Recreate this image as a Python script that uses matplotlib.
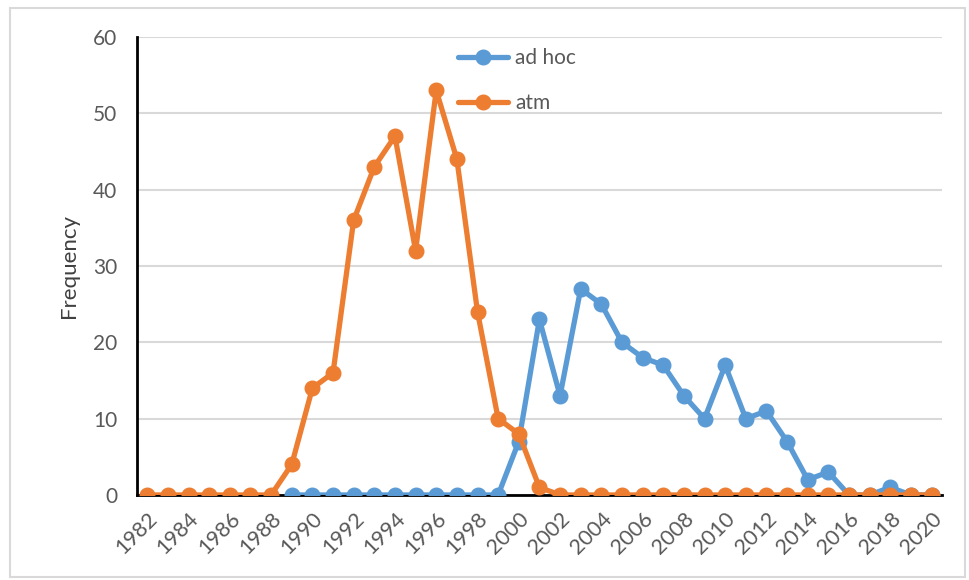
import matplotlib
matplotlib.use("Agg")
import matplotlib.pyplot as plt
from matplotlib.patches import Rectangle

# Yearly counts for each term
years_atm = list(range(1982, 2021))
atm = [0, 0, 0, 0, 0, 0, 0, 4, 14, 16, 36, 43, 47, 32, 53, 44, 24, 10, 8, 1,
       0, 0, 0, 0, 0, 0, 0, 0, 0, 0, 0, 0, 0, 0, 0, 0, 0, 0, 0]

years_adhoc = list(range(1989, 2021))
adhoc = [0, 0, 0, 0, 0, 0, 0, 0, 0, 0, 0, 7, 23, 13, 27, 25, 20, 18, 17, 13,
         10, 17, 10, 11, 7, 2, 3, 0, 0, 1, 0, 0]

tick_years = list(range(1982, 2021, 2))

plt.rcParams["font.family"] = ["Lato", "DejaVu Sans"]

fig = plt.figure(figsize=(9.7, 5.8), dpi=100)
ax = fig.add_axes([0.1412, 0.1466, 0.8298, 0.7896])

# light frame around the whole chart
fig.patches.append(Rectangle((0.010, 0.005), 0.985, 0.982, transform=fig.transFigure,
                             fill=False, edgecolor="#d9d9d9", linewidth=1.5))

blue = "#5B9BD5"
orange = "#ED7D31"

ax.plot(years_adhoc, adhoc, color=blue, lw=3.8, marker="o", ms=10.5,
        label="ad hoc", zorder=3, solid_capstyle="round")
ax.plot(years_atm, atm, color=orange, lw=3.8, marker="o", ms=10.5,
        label="atm", zorder=4, solid_capstyle="round")

ax.set_xlim(1981.5, 2020.5)
ax.set_ylim(0, 60)
ax.set_yticks(range(0, 61, 10))
ax.set_xticks(tick_years)
ax.set_xticklabels([str(y) for y in tick_years], rotation=45, ha="right",
                   rotation_mode="anchor")
ax.tick_params(length=0, labelsize=15, labelcolor="#595959")
ax.tick_params(axis="y", pad=14)
ax.tick_params(axis="x", pad=10, labelsize=15.5)

ax.grid(axis="y", color="#d9d9d9", lw=1.5, zorder=0)
ax.set_axisbelow(True)
for s in ["top", "right"]:
    ax.spines[s].set_visible(False)
for s in ["left", "bottom"]:
    ax.spines[s].set_color("black")
    ax.spines[s].set_linewidth(2)
    ax.spines[s].set_zorder(2)

ax.set_ylabel("Frequency", fontsize=16, color="#404040", labelpad=10)

ax.legend(loc="upper left", bbox_to_anchor=(0.386, 0.998), frameon=False,
          borderpad=0, labelspacing=1.2, handlelength=2.4, handletextpad=0.35,
          fontsize=15, labelcolor="#595959")

fig.savefig("out.png", dpi=100)
